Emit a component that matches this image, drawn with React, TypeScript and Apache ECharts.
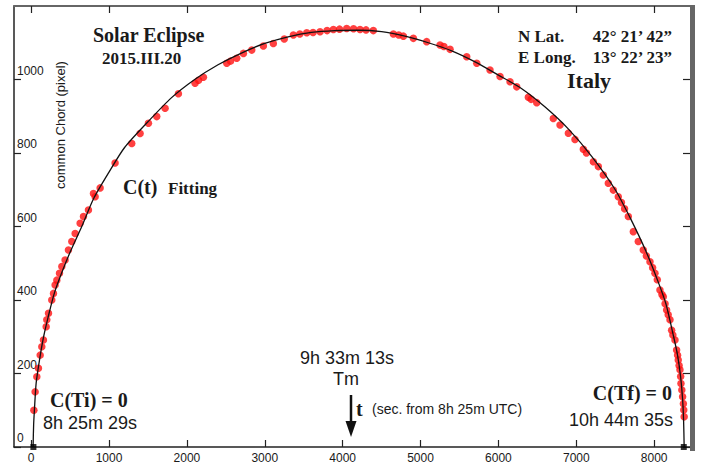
import React, { useEffect, useRef } from "react";
import * as echarts from "echarts";

const xTicks = [0, 1000, 2000, 3000, 4000, 5000, 6000, 7000, 8000];
const yTicks = [0, 200, 400, 600, 800, 1000];

// measured chord (red dots): time (s from 8h25m UTC) and chord (pixel)
const dotT = [35, 51, 73, 94, 116, 137, 158, 193, 201, 223, 265, 287, 308, 330, 364, 394, 436, 479, 522, 565, 629, 672, 736, 800, 822, 886, 1078, 1292, 1399, 1506, 1613, 1720, 1891, 2105, 2150, 2212, 2512, 2560, 2640, 2726, 2833, 2982, 3110, 3250, 3367, 3450, 3539, 3620, 3710, 3800, 3881, 3960, 4052, 4140, 4223, 4300, 4394, 4651, 4720, 4780, 4908, 5079, 5250, 5300, 5379, 5593, 5722, 5892, 6021, 6149, 6235, 6384, 6420, 6492, 6705, 6791, 6898, 6983, 7090, 7130, 7219, 7283, 7347, 7411, 7475, 7539, 7580, 7620, 7668, 7732, 7796, 7860, 7900, 7946, 7980, 8010, 8040, 8074, 8100, 8117, 8140, 8160, 8180, 8203, 8224, 8240, 8267, 8288, 8300, 8309, 8320, 8331, 8340, 8344, 8355, 8365, 8375, 8380, 8385];
const dotC = [100, 150, 191, 214, 250, 273, 291, 327, 346, 364, 400, 418, 441, 454, 473, 491, 509, 536, 559, 581, 609, 627, 645, 690, 681, 705, 773, 826, 853, 881, 899, 922, 961, 990, 998, 1006, 1044, 1050, 1058, 1071, 1080, 1091, 1098, 1110, 1121, 1124, 1127, 1128, 1130, 1133, 1136, 1137, 1139, 1138, 1136, 1135, 1133, 1124, 1121, 1118, 1112, 1103, 1094, 1090, 1082, 1062, 1044, 1026, 1008, 994, 980, 952, 946, 937, 894, 876, 854, 837, 810, 800, 776, 763, 740, 718, 699, 681, 665, 648, 627, 586, 559, 536, 520, 504, 488, 473, 455, 427, 415, 409, 390, 373, 360, 346, 318, 305, 291, 264, 250, 237, 222, 210, 192, 173, 155, 137, 118, 101, 82];

// fitted curve C(t)
const fitT = [25, 32, 42, 65, 110, 160, 220, 300, 400, 500, 650, 800, 1000, 1200, 1500, 1800, 2100, 2400, 2700, 3000, 3300, 3600, 3900, 4200, 4500, 4800, 5100, 5400, 5700, 6000, 6300, 6600, 6900, 7200, 7500, 7700, 7900, 8050, 8150, 8250, 8300, 8340, 8365, 8378, 8385];
const fitC = [0, 60, 100, 175, 240, 300, 355, 420, 478, 530, 600, 675, 748, 815, 885, 950, 1000, 1040, 1072, 1098, 1116, 1128, 1133, 1134, 1130, 1118, 1100, 1078, 1048, 1012, 975, 925, 865, 790, 700, 620, 530, 450, 390, 300, 250, 190, 130, 70, 0];

// first and last contact
const contactT = [29, 8380];
const contactC = [0, 0];

const SERIF = '"Liberation Serif", "Times New Roman", serif';
const SANS = '"Liberation Sans", Arial, sans-serif';

function txt(text: string, x: number, y: number, font: string, align = "left") {
  return {
    type: "text",
    x,
    y,
    z: 100,
    style: { text, font, fill: "#1a1a1a", textAlign: align, textVerticalAlign: "middle" },
  };
}

export default function App() {
  const ref = useRef<HTMLDivElement>(null);
  useEffect(() => {
    if (!ref.current) return;
    const chart = echarts.init(ref.current, null, { renderer: "svg" });
    const xr = { min: -220, max: 8460 };
    const plain = (v: number) => String(v);
    chart.setOption({
      animation: false,
      backgroundColor: "#fff",
      grid: { left: 14, right: 19, top: 6, bottom: 19 },
      xAxis: [
        {
          type: "value",
          ...xr,
          position: "bottom",
          splitLine: { show: false },
          axisLine: { show: true, onZero: false, lineStyle: { color: "#222", width: 1.5 } },
          axisTick: { inside: true, length: 7, customValues: xTicks, lineStyle: { color: "#222", width: 1.2 } },
          axisLabel: { customValues: xTicks, formatter: plain, margin: 5, color: "#1a1a1a", fontSize: 12, fontFamily: SANS },
        },
        {
          type: "value",
          ...xr,
          position: "top",
          splitLine: { show: false },
          axisLine: { show: true, onZero: false, lineStyle: { color: "#666", width: 2 } },
          axisTick: { inside: true, length: 7, customValues: xTicks, lineStyle: { color: "#222", width: 1.2 } },
          axisLabel: { show: false },
        },
      ],
      yAxis: [
        {
          type: "value",
          min: 0,
          max: 1200,
          position: "left",
          splitLine: { show: false },
          axisLine: { show: true, onZero: false, lineStyle: { color: "#222", width: 1.5 } },
          axisTick: { inside: true, length: 7, customValues: yTicks, lineStyle: { color: "#222", width: 1.2 } },
          axisLabel: {
            customValues: yTicks,
            formatter: plain,
            inside: true,
            margin: 3,
            align: "left",
            verticalAlign: "bottom",
            padding: [0, 0, 3, 0],
            color: "#1a1a1a",
            fontSize: 12,
            fontFamily: SANS,
          },
        },
        {
          type: "value",
          min: 0,
          max: 1200,
          position: "right",
          splitLine: { show: false },
          axisLine: { show: true, onZero: false, lineStyle: { color: "#222", width: 1 } },
          axisTick: { inside: true, length: 7, customValues: yTicks, lineStyle: { color: "#222", width: 1.2 } },
          axisLabel: { show: false },
        },
      ],
      series: [
        {
          type: "scatter",
          xAxisIndex: 0,
          yAxisIndex: 0,
          symbol: "circle",
          symbolSize: 7.5,
          itemStyle: { color: "#ff1010" },
          data: dotT.map((t, i) => [t, dotC[i]]),
          z: 2,
        },
        {
          type: "line",
          xAxisIndex: 0,
          yAxisIndex: 0,
          smooth: 0.25,
          showSymbol: false,
          lineStyle: { color: "#111", width: 1.3 },
          data: fitT.map((t, i) => [t, fitC[i]]),
          z: 3,
        },
        {
          type: "scatter",
          xAxisIndex: 0,
          yAxisIndex: 0,
          symbol: "rect",
          symbolSize: 6,
          itemStyle: { color: "#000" },
          data: contactT.map((t, i) => [t, contactC[i]]),
          z: 4,
        },
      ],
      graphic: [
        { type: "rect", shape: { x: 690, y: 5, width: 5, height: 446 }, style: { fill: "#666" }, z: 90 },
        {
          type: "text",
          x: 60,
          y: 125,
          rotation: Math.PI / 2,
          z: 100,
          style: { text: "common Chord (pixel)", font: `13px ${SANS}`, fill: "#1a1a1a", textAlign: "center", textVerticalAlign: "middle" },
        },
        txt("Solar Eclipse", 93, 35, `bold 20px ${SERIF}`),
        txt("2015.III.20", 102, 58, `bold 17px ${SERIF}`),
        txt("N Lat.", 518, 36, `bold 17px ${SERIF}`),
        txt("42\u00b0 21\u2019 42\u201d", 672, 36, `bold 17px ${SERIF}`, "right"),
        txt("E Long.", 518, 57, `bold 17px ${SERIF}`),
        txt("13\u00b0 22\u2019 23\u201d", 672, 57, `bold 17px ${SERIF}`, "right"),
        txt("Italy", 567, 80, `bold 22px ${SERIF}`),
        txt("C(t)", 123, 187, `bold 20px ${SERIF}`),
        txt("Fitting", 168, 188, `bold 17px ${SERIF}`),
        txt("C(Ti) = 0", 50, 400, `bold 20px ${SERIF}`),
        txt("8h 25m 29s", 43, 423, `18px ${SANS}`),
        txt("9h 33m 13s", 300, 358, `18px ${SANS}`),
        txt("Tm", 333, 379, `18px ${SANS}`),
        txt("t", 356, 409, `bold 20px ${SERIF}`),
        txt("(sec. from 8h 25m UTC)", 372, 409, `14px ${SANS}`),
        txt("C(Tf) = 0", 672, 393, `bold 20px ${SERIF}`, "right"),
        txt("10h 44m 35s", 673, 420, `18px ${SANS}`, "right"),
        { type: "line", shape: { x1: 351, y1: 395, x2: 351, y2: 424 }, style: { stroke: "#111", lineWidth: 2.5 }, z: 100 },
        { type: "polygon", shape: { points: [[345.5, 421], [356.5, 421], [351, 437]] }, style: { fill: "#111" }, z: 100 },
      ],
    });
    return () => chart.dispose();
  }, []);
  return <div ref={ref} style={{ position: "fixed", left: 0, top: 0, width: 709, height: 466 }} />;
}
